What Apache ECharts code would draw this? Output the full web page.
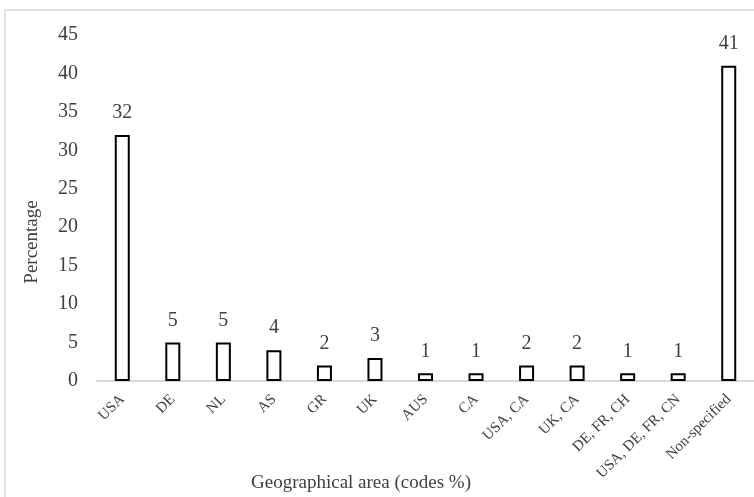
<!DOCTYPE html>
<html>
<head>
<meta charset="utf-8">
<script src="https://cdn.jsdelivr.net/npm/echarts@6/dist/echarts.min.js"></script>
<style>
  html, body { margin: 0; padding: 0; background: #fff; }
  #chart { width: 754px; height: 497px; }
</style>
</head>
<body>
<div id="chart"></div>
<script>
// Geographical areas and their share of codes (%)
const categories = ['USA', 'DE', 'NL', 'AS', 'GR', 'UK', 'AUS', 'CA', 'USA, CA', 'UK, CA', 'DE, FR, CH', 'USA, DE, FR, CN', 'Non-specified'];
const percentages = [32, 5, 5, 4, 2, 3, 1, 1, 2, 2, 1, 1, 41];
const yTicks = { min: 0, max: 45, interval: 5 };
const xTitle = 'Geographical area (codes %)';
const yTitle = 'Percentage';

const FONT = '"Liberation Serif", "Times New Roman", serif';
const TEXT = '#404040';

const chart = echarts.init(document.getElementById('chart'), null, { renderer: 'canvas' });
chart.setOption({
  animation: false,
  backgroundColor: '#fff',
  graphic: [
    {
      type: 'rect',
      shape: { x: 5, y: 10, width: 760, height: 500 },
      style: { fill: 'none', stroke: '#d9d9d9', lineWidth: 1.5 },
      silent: true
    },
    {
      type: 'text',
      x: 361, y: 483,
      style: { text: xTitle, font: '19px ' + FONT, fill: TEXT, align: 'center', verticalAlign: 'middle' },
      silent: true
    },
    {
      type: 'text',
      x: 32, y: 242,
      rotation: Math.PI / 2,
      style: { text: yTitle, font: '19px ' + FONT, fill: TEXT, align: 'center', verticalAlign: 'middle' },
      silent: true
    }
  ],
  grid: { left: 97, right: 0, top: 35, height: 346 },
  xAxis: {
    type: 'category',
    data: categories,
    axisLine: { lineStyle: { color: '#d9d9d9', width: 2 } },
    axisTick: { show: false },
    axisLabel: { interval: 0, rotate: 45, fontFamily: FONT, fontSize: 15, color: TEXT, margin: 16 }
  },
  yAxis: {
    type: 'value',
    min: yTicks.min,
    max: yTicks.max,
    interval: yTicks.interval,
    axisLine: { show: false },
    axisTick: { show: false },
    splitLine: { show: false },
    axisLabel: { fontFamily: FONT, fontSize: 20, color: TEXT, margin: 19 }
  },
  series: [{
    type: 'bar',
    data: percentages,
    barWidth: 15,
    itemStyle: { color: '#fff', borderColor: '#000', borderWidth: 2 },
    label: {
      show: true,
      position: 'top',
      distance: 12,
      fontFamily: FONT,
      fontSize: 20,
      color: TEXT
    }
  }]
});
</script>
</body>
</html>
